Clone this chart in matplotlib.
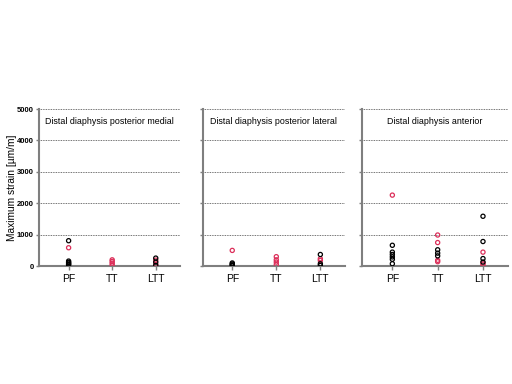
import matplotlib.pyplot as plt
import numpy as np

plt.rcParams['font.family'] = ['Liberation Sans', 'DejaVu Sans']

groups = ['PF', 'TT', 'LTT']
titles = ['Distal diaphysis posterior medial', 'Distal diaphysis posterior lateral',
          'Distal diaphysis anterior']

# black (one group) and red (other group) strains, per panel, per category
black = [
    [[809, 160, 120, 96, 60, 40], [], [255, 128, 20]],
    [[100, 70, 40, 20], [], [370, 75, 20]],
    [[663, 445, 370, 293, 217, 76], [520, 413, 326], [1587, 783, 240, 130]],
]
red = [
    [[585], [200, 150, 96, 40], [190, 60]],
    [[500], [300, 200, 128, 50], [235, 180]],
    [[2260], [990, 750, 185, 141], [445, 98, 43]],
]

red_c = '#dc2f5a'
fig = plt.figure(figsize=(5.12, 3.84), dpi=100)
rects = [(0.077, 0.307, 0.274, 0.409), (0.396, 0.307, 0.277, 0.409),
         (0.707, 0.307, 0.285, 0.409)]

for i, r in enumerate(rects):
    ax = fig.add_axes(r)
    for j in range(3):
        xb = np.full(len(black[i][j]), j)
        xr = np.full(len(red[i][j]), j)
        ax.scatter(xr, red[i][j], s=9, facecolors='none', edgecolors=red_c,
                   linewidths=0.9, zorder=3)
        ax.scatter(xb, black[i][j], s=9, facecolors='none', edgecolors='black',
                   linewidths=0.9, zorder=3)
    ax.set_xlim(-0.67, 2.55)
    ax.set_ylim(0, 5000)
    ax.set_yticks(range(0, 5001, 1000))
    ax.set_xticks(range(3))
    ax.set_xticklabels(groups, fontsize=7.5)
    ax.yaxis.grid(True, linestyle=(0, (1, 1)), color='#444444', linewidth=0.6)
    ax.set_axisbelow(True)
    for s in ['top', 'right']:
        ax.spines[s].set_visible(False)
    for s in ['left', 'bottom']:
        ax.spines[s].set_color('#7f7f7f')
        ax.spines[s].set_linewidth(1.5)
    ax.tick_params(axis='x', length=3, color='#7f7f7f', width=1, pad=3)
    ax.tick_params(axis='y', length=2.5, color='#7f7f7f', width=1, pad=1.5)
    if i == 0:
        for lab in ax.get_yticklabels():
            lab.set_fontsize(5.5)
            lab.set_fontweight('bold')
        ax.set_ylabel('Maximum strain [µm/m]', fontsize=7.3, va='center')
        ax.yaxis.set_label_coords(-0.195, 0.5)
    else:
        ax.set_yticklabels([])
    ax.text(0.5, 0.95, titles[i], transform=ax.transAxes, ha='center', va='top',
            fontsize=6.4)

fig.savefig('out.png', dpi=100)
